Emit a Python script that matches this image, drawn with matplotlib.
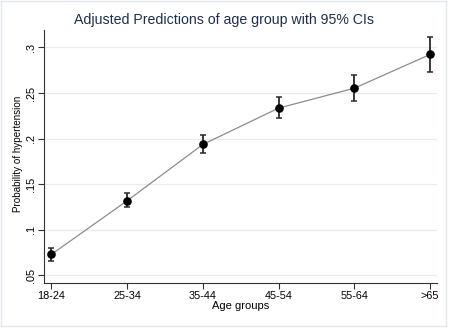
import numpy as np
import matplotlib.pyplot as plt
from matplotlib.patches import Rectangle

plt.rcParams['font.family'] = ['Liberation Sans', 'DejaVu Sans']

# adjusted predictions
age_groups = ['18-24', '25-34', '35-44', '45-54', '55-64', '>65']
margin = [0.0727, 0.1316, 0.1935, 0.2334, 0.2553, 0.2923]
ci_low = [0.0657, 0.1243, 0.1836, 0.2221, 0.2411, 0.2733]
ci_high = [0.0793, 0.1397, 0.2034, 0.2451, 0.2693, 0.3117]
yticks = [0.05, 0.1, 0.15, 0.2, 0.25, 0.3]
ytick_labels = ['.05', '.1', '.15', '.2', '.25', '.3']

fig = plt.figure(figsize=(4.5, 3.28), dpi=100)
fig.patch.set_facecolor('white')
# faint frame round the graph region, like Stata's export
fig.patches.append(Rectangle((0.002, 0.006), 0.99, 0.99, transform=fig.transFigure,
                             fill=False, edgecolor='#e3e8ec', linewidth=1.0))

ax = fig.add_axes([0.098, 0.137, 0.873, 0.771])
x = np.arange(len(age_groups))
margin = np.array(margin)
yerr = [margin - np.array(ci_low), np.array(ci_high) - margin]

ax.plot(x, margin, color='#8c8c8c', linewidth=0.9, zorder=2)
ax.errorbar(x, margin, yerr=yerr, fmt='none', ecolor='#2a2a2a', elinewidth=1.3,
            capsize=2.5, capthick=1.1, zorder=3)
ax.plot(x, margin, 'o', color='black', markersize=5.2, zorder=4)

ax.set_xlim(-0.096, 5.09)
ax.set_ylim(0.0412, 0.319)
ax.set_xticks(x)
ax.set_xticklabels(age_groups, fontsize=7.8)
ax.set_yticks(yticks)
ax.set_yticklabels(ytick_labels, fontsize=7.8, rotation=90, va='center')
ax.tick_params(axis='both', length=4, width=0.8, color='#333333', pad=2)

ax.yaxis.grid(True, color='#e6ecf0', linewidth=0.9)
ax.set_axisbelow(True)
for side in ['top', 'right']:
    ax.spines[side].set_visible(False)
for side in ['left', 'bottom']:
    ax.spines[side].set_color('#333333')
    ax.spines[side].set_linewidth(0.8)

ax.set_xlabel('Age groups', fontsize=8, labelpad=0)
ax.set_ylabel('Probability of hypertension', fontsize=7.1)
ax.yaxis.set_label_coords(-0.053, 0.51)
fig.text(0.498, 1 - 20 / 328, 'Adjusted Predictions of age group with 95% CIs',
         fontsize=10.2, color='#1f2d4d', ha='center', va='center')

fig.savefig('out.png', dpi=100)
